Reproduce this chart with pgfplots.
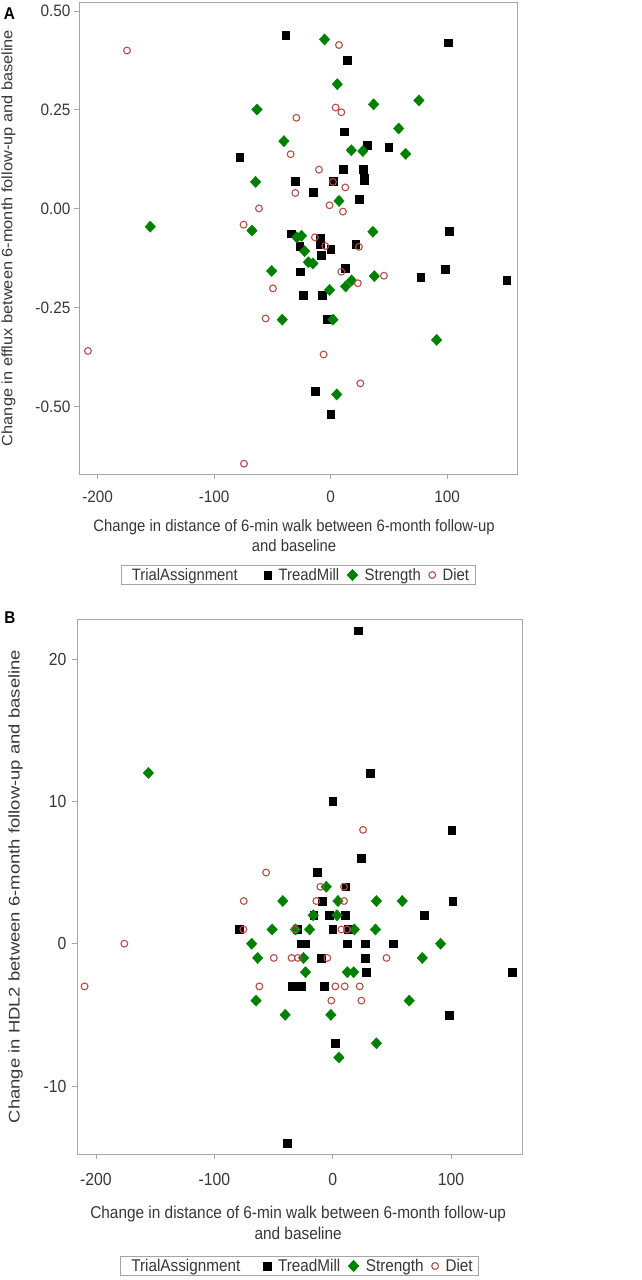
\documentclass[border=0pt]{standalone}
\usepackage{pgfplots}
\pgfplotsset{compat=1.18}
\usepackage{fontspec}
\setmainfont{Liberation Sans}[FakeStretch=0.9]
\newfontfamily\ylabA{Liberation Sans}[FakeStretch=1.09]
\newfontfamily\ylabB{Liberation Sans}[FakeStretch=1.2]
\newfontfamily\tickA{Liberation Sans}[FakeStretch=0.93]
\definecolor{framegray}{RGB}{165,165,165}
\definecolor{txt}{RGB}{55,55,55}
\definecolor{sgreen}{RGB}{0,128,0}
\definecolor{dred}{RGB}{180,78,72}
\pgfplotsset{
  panel/.style={
    scale only axis,
    axis line style={framegray, line width=0.8pt},
    tick style={framegray, line width=0.8pt},
    tick align=outside,
    major tick length=5pt,
    xtick pos=bottom, ytick pos=left,
    xmin=-216, xmax=160,
    xtick={-200,-100,0,100},
    xticklabels={-200,-100,0,100},
    tick label style={text=txt},
    label style={text=txt},
    xlabel={Change in distance of 6-min walk between 6-month follow-up\\and baseline},
    xlabel style={align=center, anchor=center},
    ylabel style={anchor=center, rotate=0},
    legend columns=4,
    legend style={draw=framegray, line width=0.6pt, text=txt,
      anchor=center, inner xsep=4pt, inner ysep=0.5pt,
      /tikz/every odd column/.append style={column sep=5pt},
      /tikz/every even column/.append style={column sep=6pt}},
    legend cell align=left,
  },
  tread/.style={only marks, mark=square*, mark size=3.9pt, draw=black, fill=black},
  stren/.style={only marks, mark=diamond*, mark size=5.6pt, draw=sgreen, fill=sgreen, mark options={xscale=1.25}},
  diet/.style={only marks, mark=o, mark size=3.4pt, draw=dred, mark options={line width=1.1pt}},
}
\begin{document}
\begin{tikzpicture}[x=1pt,y=1pt]
\path[use as bounding box] (0,0) rectangle (641,-1280);
\node[font=\fontsize{17}{20}\selectfont\bfseries, inner sep=0pt] at (9.5,-14) {A};
\node[font=\fontsize{17}{20}\selectfont\bfseries, inner sep=0pt] at (10,-617.5) {B};
% Panel A
\begin{axis}[panel,
  at={(79pt,-2pt)}, anchor=north west,
  width=438pt, height=472pt,
  ymin=-0.670, ymax=0.5226,
  ytick={-0.5,-0.25,0,0.25,0.5},
  yticklabels={-0.50,-0.25,0.00,0.25,0.50},
  tick label style={font=\tickA\fontsize{16.5}{19}\selectfont},
  xticklabel style={yshift=-8pt},
  xlabel style={font=\fontsize{16.5}{20}\selectfont, at={(axis description cs:0.491,-0.1303)}},
  ylabel={Change in efflux between 6-month follow-up and baseline},
  ylabel style={font=\ylabA\fontsize{15}{18}\selectfont, at={(axis description cs:-0.161,0.5)}},
  legend style={font=\fontsize{16.5}{20}\selectfont, at={(0.5,-0.214)}},
]
\addlegendimage{empty legend}
\addlegendentry{\makebox[124pt][l]{TrialAssignment}}
\addplot[tread] coordinates {
(-38.6,0.439) (100.7,0.420) (14.3,0.375) (11.4,0.195) (-78.1,0.131)
(31.5,0.160) (49.8,0.155) (10.6,0.101) (27.7,0.101) (-30.3,0.069)
(2.0,0.069) (28.6,0.077) (29.0,0.071) (-15.2,0.043) (24.3,0.025)
(-34.1,-0.063) (-26.6,-0.094) (-8.9,-0.075) (-8.9,-0.090) (0,-0.101)
(-8.0,-0.117) (21.5,-0.089) (101.5,-0.056) (-26,-0.159) (12.6,-0.150)
(77.3,-0.172) (98.4,-0.153) (151.1,-0.181) (-23.2,-0.218) (-7.1,-0.218)
(-2.8,-0.279) (-12.9,-0.461) (0,-0.519)
};
\addlegendentry{TreadMill}
\addplot[stren] coordinates {
(-5.2,0.428) (5.7,0.315) (-63.2,0.251) (36.9,0.264) (75.8,0.274)
(58.4,0.203) (-40.1,0.171) (17.8,0.148) (27.7,0.146) (64.4,0.139)
(-64.4,0.068) (7.2,0.020) (-154.8,-0.045) (-67.5,-0.055) (-25,-0.068)
(-29,-0.072) (-22.3,-0.107) (-19.1,-0.135) (-15.2,-0.138) (36.3,-0.058)
(-50.6,-0.157) (37.5,-0.170) (18.0,-0.181) (12.9,-0.196) (-0.9,-0.205)
(-41.5,-0.280) (2.0,-0.280) (91.0,-0.331) (5.2,-0.469)
};
\addlegendentry{Strength}
\addplot[diet] coordinates {
(-174.8,0.40) (7.2,0.414) (4.3,0.256) (9.2,0.244) (-29.4,0.230)
(-34.3,0.138) (-10,0.099) (2.0,0.068) (12.6,0.054) (-30.3,0.040)
(-61.5,0.001) (-0.9,0.009) (10.6,-0.007) (-74.7,-0.040) (-13.5,-0.072)
(-4.6,-0.094) (24.3,-0.096) (9.2,-0.159) (45.8,-0.169) (23.4,-0.188)
(-49.5,-0.201) (-55.8,-0.277) (-208.3,-0.359) (-6.0,-0.368) (25.5,-0.441)
(-74.4,-0.644)
};
\addlegendentry{Diet}
\end{axis}
% Panel B
\begin{axis}[panel,
  at={(77pt,-619pt)}, anchor=north west,
  width=445pt, height=535pt,
  ymin=-14.78, ymax=22.82,
  ytick={-10,0,10,20},
  yticklabels={-10,0,10,20},
  tick label style={font=\fontsize{17.5}{20}\selectfont},
  xticklabel style={yshift=-11pt},
  yticklabel style={xshift=-2pt},
  xlabel style={font=\fontsize{17.1}{21}\selectfont, at={(axis description cs:0.497,-0.1286)}},
  ylabel={Change in HDL2 between 6-month follow-up and baseline},
  ylabel style={font=\ylabB\fontsize{15.4}{18}\selectfont, at={(axis description cs:-0.138,0.5)}},
  legend style={font=\fontsize{17}{20}\selectfont, at={(0.5,-0.2093)}},
]
\addlegendimage{empty legend}
\addlegendentry{\makebox[124pt][l]{TrialAssignment}}
\addplot[tread] coordinates {
(21.4,22) (31.4,12) (0,10) (100.6,8) (24.3,6) (-13,5) (11,4) (-8.7,3)
(101.4,3) (77.1,2) (-16,2) (-3.1,2) (10.5,2) (-78.8,1) (-29.9,1) (0,1)
(13,1) (-26.6,0) (-23.2,0) (12.4,0) (27.7,0) (51.1,0) (-9.6,-1) (27.7,-1)
(28.5,-2) (151.4,-2) (-34.5,-3) (-26.6,-3) (-7.3,-3) (98.6,-5) (2.3,-7)
(-38.7,-14)
};
\addlegendentry{TreadMill}
\addplot[stren] coordinates {
(-155.7,12) (-5.4,4) (-42.1,3) (4.5,3) (37,3) (58.8,3) (-16.4,2) (3.7,2)
(-51.1,1) (-31.4,1) (-19.5,1) (18.4,1) (36.2,1) (-68.4,0) (91.2,0)
(-63.3,-1) (-24.6,-1) (75.7,-1) (-22.9,-2) (12.4,-2) (17.8,-2) (-64.7,-4)
(64.7,-4) (-40.1,-5) (-1.5,-5) (37,-7) (5.3,-8)
};
\addlegendentry{Strength}
\addplot[diet] coordinates {
(25.7,8) (-56.2,5) (-10.4,4) (9.6,4) (-75.1,3) (-13.8,3) (9.6,3)
(-75.4,1) (-32,1) (7.4,1) (12.1,1) (-176,0) (-49.7,-1) (-34.7,-1)
(-29.4,-1) (-4.5,-1) (45.5,-1) (-209.6,-3) (-61.9,-3) (2.3,-3) (10.2,-3)
(22.9,-3) (-1.1,-4) (24.3,-4)
};
\addlegendentry{Diet}
\end{axis}
\end{tikzpicture}
\end{document}
